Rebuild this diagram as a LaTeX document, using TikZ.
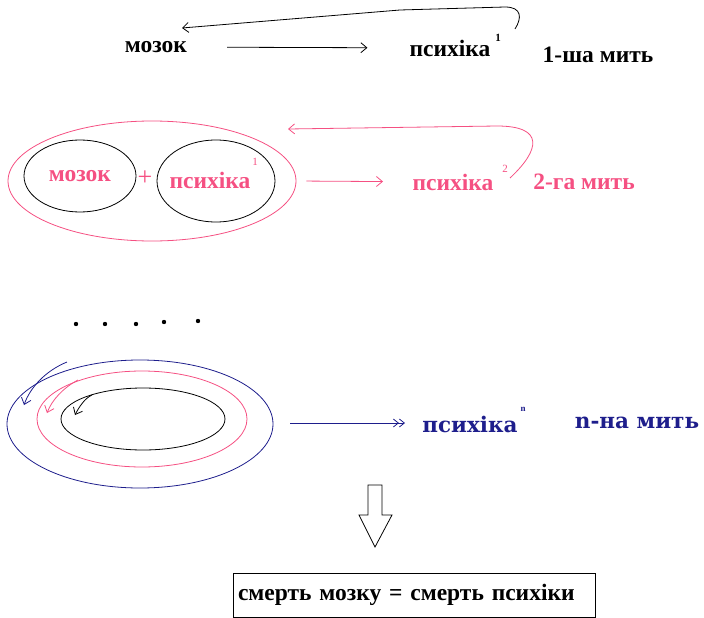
\documentclass[tikz,border=0pt]{standalone}
\usepackage{fontspec}
\setmainfont{Liberation Serif}
\newfontfamily\widefont{DejaVu Serif}
\usetikzlibrary{arrows.meta}
\usetikzlibrary{shapes.geometric}

\definecolor{rosa}{RGB}{245,80,130}
\definecolor{navyline}{RGB}{30,30,140}
\tikzset{
  word/.style={font=\bfseries\fontsize{23.5}{26}\selectfont, inner sep=0pt},
  wideword/.style={font=\widefont\bfseries\fontsize{21.5}{24}\selectfont, inner sep=0pt, text=navyline},
  sup/.style={font=\fontsize{11}{12}\selectfont, inner sep=0pt},
  ring/.style={draw, ellipse, inner sep=0pt, line width=0.8pt},
  barb/.style={-{Straight Barb[length=6pt,width=10pt]}, line width=0.8pt},
  dbarb/.style={-{Straight Barb[length=5pt,width=8pt]Straight Barb[length=5pt,width=8pt]}, line width=0.8pt}
}

\begin{document}
\begin{tikzpicture}[x=1pt,y=-1pt]
\useasboundingbox (0,0) rectangle (704,618);

% first moment
\node[word] (brain1) at (156,47) {мозок};
\node[word] (psy1) at (450,48) {психіка};
\node[sup, font=\bfseries\fontsize{11}{12}\selectfont] (sup1) at (498,38) {1};
\node[word] (moment1) at (598,55) {1-ша мить};
\coordinate (back1) at (182,28);
\coordinate (fb1) at (515,29);
\draw[barb, shorten <=40pt, shorten >=42pt] (brain1) -- (psy1);
\draw[barb] (fb1) .. controls (522,18) and (522,7) .. (505,7) -- (400,10) -- (back1);

% second moment
\node[ring, draw=rosa, minimum width=288pt, minimum height=120pt] (whole2) at (152,181) {};
\node[ring, word, text=rosa, minimum width=112pt, minimum height=72pt] (brain2) at (80,176) {мозок};
\node[ring, minimum width=118pt, minimum height=82pt] (mind2) at (216,181) {};
\node[word, text=rosa] (psy2a) at (210,180) {психіка};
\node[sup, text=rosa] at (255,162) {1};
\node[word, text=rosa, font=\fontsize{26}{28}\selectfont] (plus) at (145,178) {+};
\node[word, text=rosa] (psy2) at (453,182) {психіка};
\node[sup, text=rosa] (sup2) at (505,169) {2};
\node[word, text=rosa] (moment2) at (584,182) {2-га мить};
\coordinate (back2) at (288,129);
\coordinate (fb2) at (510,178);
\draw[barb, rosa, shorten <=10pt, shorten >=70pt] (whole2.east) -- (psy2.west -| 453,181);
\draw[barb, rosa] (fb2) .. controls (540,150) and (545,126) .. (497,126) -- (back2);

% dots
\foreach \x/\y in {76/324, 105/324, 136/324, 164/322, 198/321}
  \fill (\x,\y) circle (2.2pt);

% n-th moment
\node[ring, draw=navyline, minimum width=266pt, minimum height=128pt] (whole3) at (140,424) {};
\node[ring, draw=rosa, minimum width=210pt, minimum height=96pt] (mid3) at (142,419) {};
\node[ring, minimum width=164pt, minimum height=62pt] (core3) at (143,419) {};
\draw[barb, navyline] (67,362) .. controls (45,371) and (30,388) .. (24,405);
\draw[barb, rosa] (78,380) .. controls (63,388) and (52,400) .. (47,413);
\draw[barb] (92,395) .. controls (85,398) and (79,407) .. (75,415);
\node[wideword] (psyn) at (470,424) {психіка};
\node[sup, text=navyline, font=\bfseries\fontsize{9}{10}\selectfont] (supn) at (523,409) {n};
\node[wideword] (momentn) at (637,423) {n-на мить};
\draw[dbarb, navyline] (whole3.east |- 0,423) ++(17,0) -- (405,423);

% conclusion
\draw[line width=0.8pt] (368,485) -- (382,485) -- (382,515) -- (392,515) -- (375,547)
  -- (359,515) -- (368,515) -- cycle;
\node[draw, line width=0.8pt, text width=352pt, align=left, inner xsep=5pt, minimum height=44pt,
  font=\bfseries\fontsize{23.5}{26}\selectfont] (verdict) at (414,595) {смерть мозку = смерть психіки};
\end{tikzpicture}
\end{document}
